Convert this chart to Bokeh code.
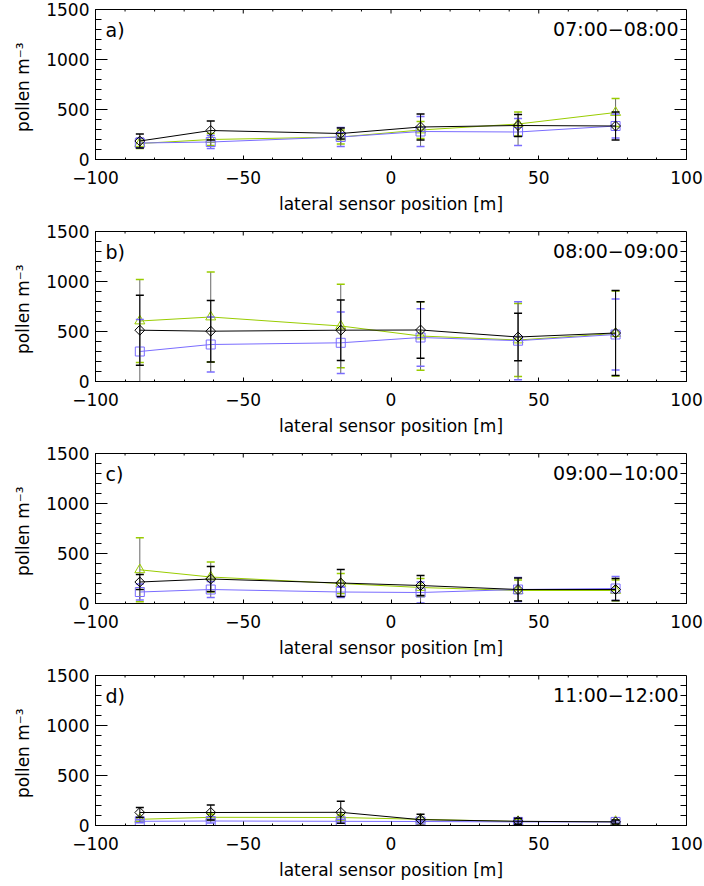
from bokeh.plotting import figure
from bokeh.models import Range1d, FixedTicker, Label, ColumnDataSource
from bokeh.layouts import column
from bokeh.embed import file_html
from bokeh.resources import INLINE
import math

# ---------------- data ----------------
x_pos = [-85, -61, -17, 10, 43, 76]

panel_letters = ["a)", "b)", "c)", "d)"]
time_windows = ["07:00\u221208:00", "08:00\u221209:00", "09:00\u221210:00", "11:00\u221212:00"]

x_major = [-100, -50, 0, 50, 100]
x_minor = list(range(-100, 101, 10))
y_major = [0, 500, 1000, 1500]
y_minor = list(range(0, 1501, 100))

# panel a  07:00-08:00
black_a = [185, 290, 260, 325, 340, 335]
black_a_err = [70, 95, 55, 130, 110, 140]
green_a = [160, 200, 225, 295, 355, 470]
green_a_err = [50, 60, 70, 85, 120, 140]
blue_a = [165, 175, 225, 280, 275, 335]
blue_a_err = [50, 65, 95, 150, 135, 120]

# panel b  08:00-09:00
black_b = [513, 503, 513, 515, 445, 485]
black_b_err = [350, 308, 303, 282, 237, 424]
green_b = [605, 645, 555, 455, 415, 480]
green_b_err = [415, 450, 417, 343, 366, 425]
blue_b = [300, 370, 387, 440, 408, 470]
blue_b_err = [320, 275, 308, 287, 390, 355]

# panel c  09:00-10:00
black_c = [215, 245, 205, 180, 140, 140]
black_c_err = [75, 125, 135, 100, 115, 110]
green_c = [337, 265, 200, 160, 130, 130]
green_c_err = [320, 150, 100, 90, 105, 105]
blue_c = [115, 140, 115, 110, 140, 150]
blue_c_err = [80, 80, 55, 105, 120, 120]

# panel d  11:00-12:00
black_d = [130, 130, 132, 58, 42, 36]
black_d_err = [50, 75, 110, 55, 30, 20]
green_d = [62, 82, 80, 62, 40, 40]
green_d_err = [20, 30, 25, 20, 15, 15]
blue_d = [42, 45, 42, 40, 36, 36]
blue_d_err = [15, 20, 20, 15, 12, 12]

panels = [
    (black_a, black_a_err, green_a, green_a_err, blue_a, blue_a_err),
    (black_b, black_b_err, green_b, green_b_err, blue_b, blue_b_err),
    (black_c, black_c_err, green_c, green_c_err, blue_c, blue_c_err),
    (black_d, black_d_err, green_d, green_d_err, blue_d, blue_d_err),
]

# ---------------- style ----------------
FONT = "DejaVu Sans"
BLACK = "#000000"
GREEN = "#99cc00"
BLUE = "#7a6cff"
STEM = "#666666"
X0, X1 = -100, 100
Y0, Y1 = 0, 1500
W = 704
LEFT, RIGHT, TOP = 95, 18, 9
FH = 150
FW = W - LEFT - RIGHT
PX = (X1 - X0) / FW   # data units per pixel (x)
PY = (Y1 - Y0) / FH   # data units per pixel (y)


def draw_series(p, y, err, color, stem_color, marker, size, angle=0.0):
    lo = [v - e for v, e in zip(y, err)]
    hi = [v + e for v, e in zip(y, err)]
    src = ColumnDataSource(dict(x=x_pos, y=y, lo=lo, hi=hi))
    p.line("x", "y", source=src, line_color=color, line_width=1)
    p.segment(x0="x", y0="lo", x1="x", y1="hi", source=src, line_color=stem_color, line_width=1)
    p.scatter("x", "hi", source=src, marker="dash", size=8, line_color=color, line_width=1.5)
    p.scatter("x", "lo", source=src, marker="dash", size=8, line_color=color, line_width=1.5)
    p.scatter("x", "y", source=src, marker=marker, size=size, angle=angle,
              fill_color=None, line_color=color, line_width=1)


def style_axis(ax, major_in, minor_in):
    ax.major_tick_in = major_in
    ax.major_tick_out = 0
    ax.minor_tick_in = minor_in
    ax.minor_tick_out = 0
    ax.axis_line_color = "black"
    ax.major_tick_line_color = "black"
    ax.minor_tick_line_color = "black"
    ax.major_label_text_font = FONT
    ax.major_label_text_font_size = "17px"
    ax.major_label_text_color = "black"
    ax.axis_label_text_font = FONT
    ax.axis_label_text_font_size = "17px"
    ax.axis_label_text_font_style = "normal"
    ax.axis_label_text_color = "black"


def mirror_ticks(p):
    # ticks on the top and right frame edges (no labels), pointing inward
    tx0, ty0, tx1, ty1 = [], [], [], []
    for t in x_minor:
        ln = 4 if t in x_major else 2
        if X0 < t < X1:
            tx0.append(t); ty0.append(Y1); tx1.append(t); ty1.append(Y1 - ln * PY)
    for t in y_minor:
        ln = 12 if t in y_major else 6
        if Y0 < t < Y1:
            tx0.append(X1); ty0.append(t); tx1.append(X1 - ln * PX); ty1.append(t)
    p.segment(x0=tx0, y0=ty0, x1=tx1, y1=ty1, line_color="black", line_width=1)


figs = []
for k, (blk, blk_e, grn, grn_e, blu, blu_e) in enumerate(panels):
    last = k == len(panels) - 1
    bottom = 61 if last else 63
    p = figure(width=W, height=TOP + FH + bottom,
               x_range=Range1d(X0, X1), y_range=Range1d(Y0, Y1),
               output_backend="svg", toolbar_location=None,
               min_border_left=LEFT, min_border_right=RIGHT, min_border_top=TOP,
               min_border_bottom=bottom,
               x_axis_label="lateral sensor position [m]",
               y_axis_label="pollen  m\u207b\u00b3")
    p.grid.visible = False
    p.outline_line_color = "black"
    p.outline_line_width = 1
    p.background_fill_color = "white"
    p.border_fill_color = "white"

    xa = p.xaxis[0]
    xa.ticker = FixedTicker(ticks=x_major, minor_ticks=x_minor)
    style_axis(xa, 4, 2)
    xa.major_label_standoff = 11
    xa.axis_label_standoff = 7
    xa.major_label_overrides = {-100: "\u2212100", -50: "\u221250"}

    ya = p.yaxis[0]
    ya.ticker = FixedTicker(ticks=y_major, minor_ticks=y_minor)
    style_axis(ya, 12, 6)
    ya.major_label_standoff = 6
    ya.axis_label_standoff = 10

    mirror_ticks(p)

    draw_series(p, grn, grn_e, GREEN, STEM, "triangle", 10)
    draw_series(p, blu, blu_e, BLUE, STEM, "square", 9)
    draw_series(p, blk, blk_e, BLACK, BLACK, "square", 7, angle=math.pi / 4)

    p.add_layout(Label(x=X0 + 10 * PX, y=Y1 - 20 * PY, text=panel_letters[k],
                       text_font=FONT, text_font_size="19px", text_baseline="middle",
                       text_align="left", text_color="black"))
    p.add_layout(Label(x=X1 - 8 * PX, y=Y1 - 19 * PY, text=time_windows[k],
                       text_font=FONT, text_font_size="19px", text_baseline="middle",
                       text_align="right", text_color="black"))
    figs.append(p)

layout = column(*figs, spacing=0)
open("out.html", "w").write(file_html(layout, INLINE))
